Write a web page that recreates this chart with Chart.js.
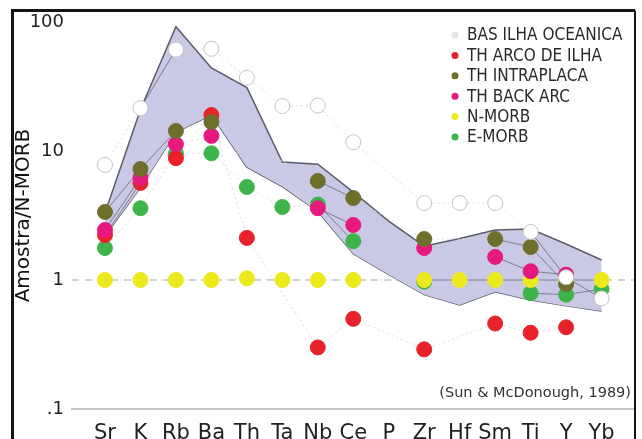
<!DOCTYPE html>
<html>
<head>
<meta charset="utf-8">
<script src="https://cdn.jsdelivr.net/npm/chart.js@4/dist/chart.umd.min.js"></script>
<style>
  html, body { margin: 0; padding: 0; background: #fff; }
  #grafico { display: block; }
</style>
</head>
<body>
<canvas id="grafico" width="642" height="439"></canvas>
<script>
// elementos do diagrama multi-elementar (normalizado ao N-MORB)
const elementos = ['Sr', 'K', 'Rb', 'Ba', 'Th', 'Ta', 'Nb', 'Ce', 'P', 'Zr', 'Hf', 'Sm', 'Ti', 'Y', 'Yb'];

const nomesSeries = ['BAS ILHA OCEANICA', 'TH ARCO DE ILHA', 'TH INTRAPLACA', 'TH BACK ARC', 'N-MORB', 'E-MORB'];

const serieBasIlha    = [7.8, 21.5, 61, 62, 37, 22.3, 22.5, 11.7, null, 3.95, 3.95, 3.95, 2.36, 1.05, 0.72];
const serieArcoIlha   = [2.23, 5.65, 8.8, 19, 2.12, null, 0.30, 0.50, null, 0.29, null, 0.46, 0.39, 0.43, null];
const serieIntraplaca = [3.37, 7.25, 14.3, 16.8, null, null, 5.86, 4.32, null, 2.08, null, 2.08, 1.80, 0.93, null];
const serieBackArc    = [2.44, 6.2, 11.3, 13.1, null, null, 3.6, 2.67, null, 1.77, null, 1.51, 1.17, 1.1, null];
const serieNMorb      = [1, 1, 1, 1, 1.03, 1, 1, 1, null, 1, 1, 1, 1, 1, 1];
const serieEMorb      = [1.77, 3.6, 9.6, 9.6, 5.26, 3.68, 3.85, 2.0, null, 0.97, null, null, 0.79, 0.77, 0.85];

// campo sombreado (envoltoria das amostras)
const campoSuperior = [3.3, 21, 92, 44, 31, 8.2, 7.9, 4.8, 2.86, 1.83, 2.1, 2.44, 2.48, 1.9, 1.43];
const campoInferior = [2.2, 5.2, 14, 19, 7.5, 5.3, 3.4, 1.6, 1.1, 0.77, 0.64, 0.81, 0.70, 0.63, 0.575];

const valoresEixoY = [0.1, 1, 10, 100];
const rotulosEixoY = ['.1', '1', '10', '100'];
const nivelReferencia = 1;
const fonte = 'Sun & McDonough, 1989';

const cores = ['#ffffff', '#e8222a', '#6f6f2c', '#e6197f', '#ecea1c', '#3db54a'];
const bordas = ['#c4c4c4', '#e8222a', '#6f6f2c', '#e6197f', '#ecea1c', '#3db54a'];

function pontos(valores) {
    return valores.map((v, i) => ({ x: i, y: v }));
}

// o segmento fica escuro quando os dois pontos caem dentro do campo
function dentroDoCampo(i, v) {
    return v >= campoInferior[i] * 0.95 && v <= campoSuperior[i] * 1.05;
}
function segmentoDentro(c) {
    return dentroDoCampo(c.p0DataIndex, c.p0.parsed.y) && dentroDoCampo(c.p1DataIndex, c.p1.parsed.y);
}

function serie(indice, valores, ordem) {
    return {
        label: nomesSeries[indice],
        data: pontos(valores),
        backgroundColor: cores[indice],
        borderColor: '#6a6a78',
        pointBorderColor: bordas[indice],
        pointBackgroundColor: cores[indice],
        pointBorderWidth: 1,
        pointRadius: 7.5,
        borderWidth: 0.8,
        spanGaps: true,
        fill: false,
        order: ordem,
        segment: {
            borderColor: c => segmentoDentro(c) ? '#6a6a78' : '#d6d6d6',
            borderDash: c => segmentoDentro(c) ? [] : [2, 3]
        }
    };
}

const datasets = [
    serie(0, serieBasIlha, 1),
    serie(2, serieIntraplaca, 2),
    serie(3, serieBackArc, 3),
    serie(1, serieArcoIlha, 4),
    serie(4, serieNMorb, 5),
    serie(5, serieEMorb, 6),
    {
        label: 'campo',
        data: pontos(campoSuperior),
        borderColor: '#5c5c6a',
        borderWidth: 1.5,
        backgroundColor: '#c9c9e6',
        pointRadius: 0,
        fill: '+1',
        order: 20
    },
    {
        label: 'campo inferior',
        data: pontos(campoInferior),
        borderColor: '#5c5c6a',
        borderWidth: 1.5,
        pointRadius: 0,
        fill: false,
        order: 21
    }
];

const moldura = {
    id: 'moldura',
    beforeDatasetsDraw(chart) {
        const { ctx, chartArea, scales } = chart;
        const y = scales.y.getPixelForValue(nivelReferencia);
        ctx.save();
        ctx.strokeStyle = '#c4c4c4';
        ctx.lineWidth = 1.5;
        ctx.setLineDash([7, 6]);
        ctx.beginPath();
        ctx.moveTo(chartArea.left, y);
        ctx.lineTo(chartArea.right, y);
        ctx.stroke();
        ctx.restore();
    },
    afterDraw(chart) {
        const { ctx } = chart;
        ctx.save();
        // moldura preta
        ctx.strokeStyle = '#151515';
        ctx.lineWidth = 3;
        ctx.beginPath();
        ctx.moveTo(12.5, 445);
        ctx.lineTo(12.5, 10.5);
        ctx.lineTo(635, 10.5);
        ctx.stroke();
        ctx.lineWidth = 2;
        ctx.beginPath();
        ctx.moveTo(635, 10.5);
        ctx.lineTo(635, 445);
        ctx.stroke();

        // legenda
        ctx.textBaseline = 'middle';
        ctx.font = '17px "DejaVu Sans"';
        nomesSeries.forEach((nome, i) => {
            const y = 35 + i * 20.4;
            ctx.beginPath();
            ctx.arc(455, y, 3.5, 0, Math.PI * 2);
            ctx.fillStyle = i === 0 ? '#e4e4e8' : cores[i];
            ctx.fill();
            ctx.fillStyle = '#2a2a2a';
            ctx.save();
            ctx.translate(467, y + 1);
            ctx.scale(0.9, 1);
            ctx.fillText(nome, 0, 0);
            ctx.restore();
        });

        // referencia
        ctx.font = '14.5px "DejaVu Sans"';
        ctx.textAlign = 'right';
        ctx.fillStyle = '#333';
        ctx.fillText('(' + fonte + ')', 631, 393, 200);
        ctx.restore();
    }
};

new Chart(document.getElementById('grafico'), {
    type: 'line',
    data: { datasets: datasets },
    options: {
        responsive: false,
        animation: false,
        layout: { padding: { top: 22, right: 7, left: 0, bottom: 0 } },
        plugins: {
            legend: { display: false },
            tooltip: { enabled: false }
        },
        scales: {
            x: {
                type: 'linear',
                min: -0.93,
                max: 14.9,
                afterFit: s => { s.height = 30; },
                afterBuildTicks: s => { s.ticks = elementos.map((_, i) => ({ value: i })); },
                ticks: {
                    callback: (v, i) => elementos[i],
                    font: { family: 'DejaVu Sans', size: 21 },
                    color: '#222',
                    padding: 12,
                    autoSkip: false,
                    maxRotation: 0
                },
                grid: { display: false, drawTicks: false },
                border: { display: true, color: '#c8c8c8', width: 2 }
            },
            y: {
                type: 'logarithmic',
                min: 0.1,
                max: 100,
                afterFit: s => { s.width = 72; },
                afterBuildTicks: s => { s.ticks = valoresEixoY.map(v => ({ value: v })); },
                ticks: {
                    callback: (v, i) => rotulosEixoY[i],
                    font: { family: 'DejaVu Sans', size: 18 },
                    color: '#222',
                    padding: 8
                },
                grid: { display: false, drawTicks: false },
                border: { display: false },
                title: {
                    display: true,
                    text: 'Amostra/N-MORB',
                    font: { family: 'DejaVu Sans', size: 20 },
                    color: '#111',
                    padding: { top: 12, bottom: 0 }
                }
            }
        }
    },
    plugins: [moldura]
});
</script>
</body>
</html>
